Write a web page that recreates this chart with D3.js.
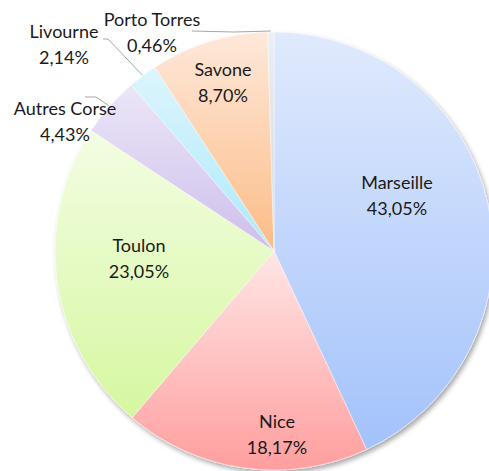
<!DOCTYPE html>
<head>
    <meta charset="utf-8">
    <title>Pie</title>
    <script src="https://d3js.org/d3.v7.min.js"></script>
    <style>
        body { margin: 0; background: #fff; }
        text { font-family: Lato, "Open Sans", sans-serif; font-size: 18px; fill: #1a1a1a; }
    </style>
</head>
<body>
<svg width="489" height="471"></svg>
<script>
    // data, clockwise from 12 o'clock
    var names = ["Marseille", "Nice", "Toulon", "Autres Corse", "Livourne", "Savone", "Porto Torres"];
    var shares = [43.05, 18.17, 23.05, 4.43, 2.14, 8.70, 0.46];
    var shareLabels = ["43,05%", "18,17%", "23,05%", "4,43%", "2,14%", "8,70%", "0,46%"];

    // gradient colours (top, bottom) per slice
    var colTop = ["#e0eafd", "#ffe6e6", "#f3fde3", "#ece6f7", "#dcf5fd", "#fee8da", "#eceff3"];
    var colBot = ["#a3c2fb", "#ff9e9e", "#d6f7a0", "#cdbfeb", "#aee9fb", "#fcbc86", "#cfd6e0"];

    var svg = d3.select("svg"),
        cx = 274, cy = 251, R = 219;

    // label anchors (first baseline), relative to centre
    var labelAt = {
        "Marseille": [123, -62], "Nice": [3, 177], "Toulon": [-135, 1], "Savone": [-51, -175],
        "Autres Corse": [-209, -136], "Livourne": [-210, -213], "Porto Torres": [-122, -225]
    };
    // outside labels: leader start (relative to centre) and elbow
    var leaders = {
        "Autres Corse": [[-189, -154], [-178, -154]],
        "Livourne": [[-171, -212], [-166, -212]],
        "Porto Torres": [[-82, -220], [-40, -219]]
    };

    var defs = svg.append("defs");
    var f = defs.append("filter").attr("id", "shadow")
        .attr("x", "-10%").attr("y", "-10%").attr("width", "130%").attr("height", "130%");
    f.append("feGaussianBlur").attr("in", "SourceAlpha").attr("stdDeviation", 2.5);
    f.append("feOffset").attr("dx", 2).attr("dy", 3).attr("result", "b");
    f.append("feComponentTransfer").append("feFuncA").attr("type", "linear").attr("slope", 0.35);
    var m = f.append("feMerge");
    m.append("feMergeNode");
    m.append("feMergeNode").attr("in", "SourceGraphic");

    names.forEach(function (n, i) {
        var lg = defs.append("linearGradient").attr("id", "g" + i)
            .attr("x1", 0).attr("y1", 0).attr("x2", 0).attr("y2", 1);
        lg.append("stop").attr("offset", "0%").attr("stop-color", colTop[i]);
        lg.append("stop").attr("offset", "100%").attr("stop-color", colBot[i]);
    });

    var pie = d3.pie().sort(null).value(function (d) { return d; });
    var arcs = pie(shares);
    var arc = d3.arc().innerRadius(0).outerRadius(R);

    var g = svg.append("g").attr("transform", "translate(" + cx + "," + cy + ")");

    g.append("g").attr("filter", "url(#shadow)")
        .selectAll("path")
        .data(arcs)
        .enter().append("path")
        .attr("d", arc)
        .style("fill", function (d, i) { return "url(#g" + i + ")"; })
        .style("stroke", "#ffffff")
        .style("stroke-opacity", 0.6)
        .style("stroke-width", 0.8);

    // leader lines
    arcs.forEach(function (d, i) {
        var l = leaders[names[i]];
        if (!l) return;
        var a = (d.startAngle + d.endAngle) / 2;
        var end = [Math.sin(a) * (R + 1), -Math.cos(a) * (R + 1)];
        g.append("polyline")
            .attr("points", [l[0], l[1], end].map(function (p) { return p.join(","); }).join(" "))
            .style("fill", "none")
            .style("stroke", "#a6a6a6")
            .style("stroke-width", 1);
    });

    // labels
    var lab = g.append("g").selectAll("text")
        .data(names)
        .enter().append("text")
        .attr("text-anchor", "middle")
        .attr("x", function (n) { return labelAt[n][0]; })
        .attr("y", function (n) { return labelAt[n][1]; });
    lab.append("tspan").text(function (n) { return n; });
    lab.append("tspan")
        .attr("x", function (n) { return labelAt[n][0]; })
        .attr("dy", 25.5)
        .text(function (n, i) { return shareLabels[i]; });
</script>
</body>
